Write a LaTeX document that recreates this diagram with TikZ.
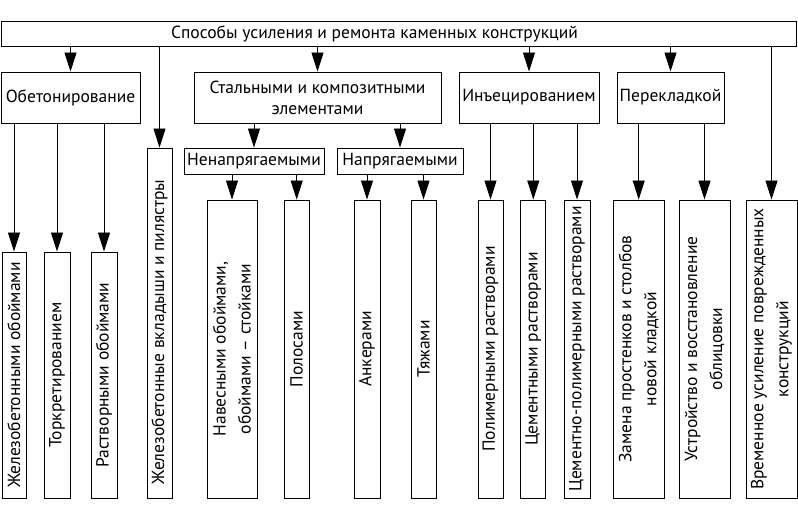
\documentclass[tikz,border=0pt]{standalone}
\usepackage{fontspec}
\setmainfont{PT Sans}
\usetikzlibrary{arrows.meta}
\tikzset{
  blk/.style={draw, line width=0.9pt, inner sep=0pt, align=center, font=\fontsize{17.5}{21}\selectfont},
  vblk/.style={blk, rotate=90, font=\fontsize{17.5}{25}\selectfont},
  arr/.style={line width=0.9pt, -{Triangle[length=19pt,width=12pt]}},
}
\begin{document}
\begin{tikzpicture}[x=1pt,y=-1pt]
\useasboundingbox (0,0) rectangle (798,518);
\node[blk, minimum width=795pt, minimum height=25pt] (top) at (398.5,33.5) {};
\node[font=\fontsize{17.5}{21}\selectfont, inner sep=0pt] (toptitle) at (374.5,33.5) {Способы усиления и ремонта каменных конструкций};
\node[blk, minimum width=139pt, minimum height=51pt] (ob) at (70.5,97.5) {Обетонирование};
\node[blk, minimum width=247pt, minimum height=51pt] (st) at (317.5,97.5) {Стальными и композитными\\элементами};
\node[blk, minimum width=140pt, minimum height=51pt] (inj) at (529,97.5) {Инъецированием};
\node[blk, minimum width=107pt, minimum height=51pt] (per) at (670.5,97.5) {Перекладкой};
\node[blk, minimum width=140pt, minimum height=26pt] (nn) at (254,161) {Ненапрягаемыми};
\node[blk, minimum width=126pt, minimum height=26pt] (np) at (400,161) {Напрягаемыми};
% vertical boxes: name/x centre/width/top/text
\foreach \nm/\cx/\w/\ty/\txt in {
  v1/14/24/252/{Железобетонными обоймами},
  v2/57/26/252/{Торкретированием},
  v3/104/26/252/{Растворными обоймами},
  v4/159.5/25/148/{Железобетонные вкладыши и пилястры\hspace*{18pt}},
  v5/232/50/200/{Навесными обоймами,\\обоймами -- стойками},
  v6/296.7/25/200/{Полосами},
  v7/367/26/200/{Анкерами},
  v8/423.5/25/200/{Тяжами},
  v9/490.5/25/200/{Полимерными растворами},
  v10/533.3/25/200/{Цементными растворами},
  v11/577/26/200/{Цементно-полимерными растворами},
  v12/638.7/51/200/{Замена простенков и столбов\\новой кладкой},
  v13/704.5/51/200/{Устройство и восстановление\\облицовки},
  v14/771.5/51/200/{Временное усиление поврежденных\\конструкций}}
{
  \pgfmathsetmacro\len{498-\ty}
  \pgfmathsetmacro\cy{(498+\ty)/2}
  \node[vblk, minimum width=\len pt, minimum height=\w pt] (\nm) at (\cx,\cy) {\txt};
}
\foreach \p/\c in {top/ob, top/st, top/inj, top/per, st/nn, st/np}
  \draw[arr] (\p.south -| \c.north) -- (\c.north);
\foreach \p/\c in {top/v4, top/v14, ob/v1, ob/v2, ob/v3, nn/v5, nn/v6, np/v7, np/v8,
  inj/v9, inj/v10, inj/v11, per/v12, per/v13}
  \draw[arr] (\p.south -| \c.east) -- (\c.east);
\end{tikzpicture}
\end{document}
